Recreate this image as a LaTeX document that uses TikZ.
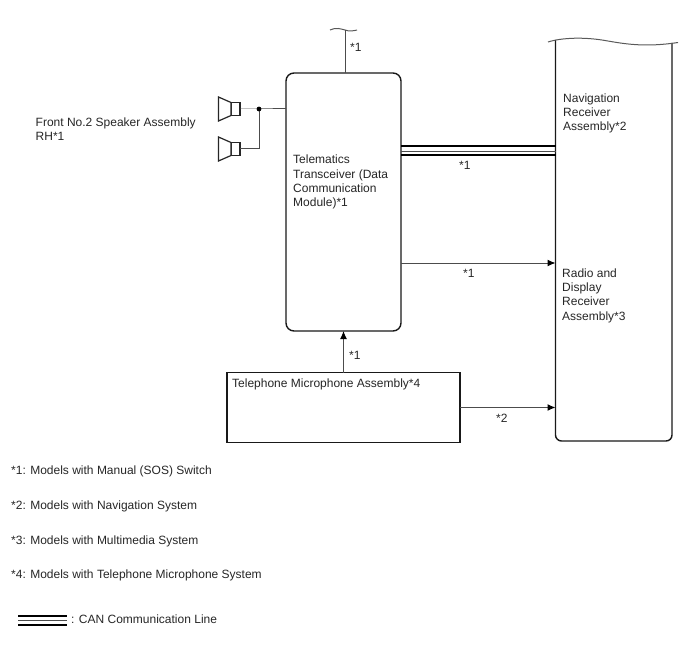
\documentclass[tikz,border=0pt]{standalone}
\usepackage{fontspec}
\setmainfont{Liberation Sans}
\usetikzlibrary{arrows.meta}
\tikzset{
  lbl/.style={anchor=base west,inner sep=0pt,font=\fontsize{12}{14.2}\selectfont,text=black!85,align=left},
  blk/.style={draw=black!90,line width=1.4pt,inner sep=0pt,outer sep=0pt,fill=white},
  wire/.style={draw=black!70,line width=1pt},
  arr/.style={wire,-{Latex[length=8pt,width=7pt,black]}},
  spk/.style={draw=black!85,line width=1.2pt,fill=white},
  canthick/.style={draw=black,line width=2pt},
  canthin/.style={draw=black!70,line width=0.8pt},
}
\begin{document}
\begin{tikzpicture}[x=1pt,y=-1pt]
\useasboundingbox (0,0) rectangle (688,658);
% receiver box
\coordinate (rtl) at (555.5,40);
\coordinate (rtr) at (672,43);
\coordinate (rbl) at (555.5,441);
\coordinate (rbr) at (672,441);
\draw[blk,fill=none,rounded corners=6pt] (rtl) -- (rbl) -- (rbr) -- (rtr);
\draw[draw=black!65,line width=1pt] (548,42) .. controls (562,37.5) and (585,37) .. (605,40.5) .. controls (625,44) and (645,47.5) .. (678,42.5);
% telematics
\node[blk,rounded corners=8pt,minimum width=115pt,minimum height=258pt] (tele) at (343.5,202) {};
% microphone
\node[blk,rounded corners=0pt,minimum width=233pt,minimum height=70pt] (mic) at (343.5,407.5) {};
% top break
\coordinate (brk) at (345,30);
\draw[draw=black!65,line width=1pt] (330,30) .. controls (336,27) and (341,29) .. (345,30) .. controls (349,31.5) and (353,31) .. (357,30);
\draw[wire] (brk) -- (brk |- tele.north);
% speakers
\node[spk,minimum width=9pt,minimum height=13pt,inner sep=0pt,outer sep=0pt] (s1) at (235.5,109) {};
\node[spk,minimum width=9pt,minimum height=13pt,inner sep=0pt,outer sep=0pt] (s2) at (235.5,149) {};
\draw[spk,line join=miter] (s1.north west) -- (218.5,97) -- (218.5,121) -- (s1.south west) -- cycle;
\draw[spk,line join=miter] (s2.north west) -- (218.5,137) -- (218.5,161) -- (s2.south west) -- cycle;
\coordinate (j) at (259,109);
\draw[wire] (s1.east) -- (j) -- (j -| tele.west);
\draw[wire] (s2.east) -- (j |- s2.east) -- (j);
\fill[black] (j) circle (2.4pt);
% CAN
\coordinate (c1) at (tele.east |- 0,146.5);
\coordinate (c2) at (tele.east |- 0,151);
\coordinate (c3) at (tele.east |- 0,155.5);
\draw[canthick] (c1) -- (c1 -| rtl);
\draw[canthin] (c2) -- (c2 -| rtl);
\draw[canthick] (c3) -- (c3 -| rtl);
% arrows
\coordinate (a1) at (tele.east |- 0,263);
\draw[arr] (a1) -- (a1 -| rtl);
\draw[arr] (mic.north) -- (mic.north |- tele.south);
\draw[arr] (mic.east) -- (mic.east -| rtl);
% labels
\node[lbl] (t1) at (35.5,141) {Front No.2 Speaker Assembly\\RH*1};
\node[lbl] (t2) at (293,206.5) {Telematics\\Transceiver (Data\\Communication\\Module)*1};
\node[lbl] (t3) at (563,131) {Navigation\\Receiver\\Assembly*2};
\node[lbl] (t4) at (562,320) {Radio and\\Display\\Receiver\\Assembly*3};
\node[lbl] (t5) at (232,387) {Telephone Microphone Assembly*4};
\node[lbl] (l1) at (350,52) {*1};
\node[lbl] (l2) at (459,169) {*1};
\node[lbl] (l3) at (463,277) {*1};
\node[lbl] (l4) at (349,359) {*1};
\node[lbl] (l5) at (496,422) {*2};
\node[lbl] (n1) at (11,474) {*1: Models with Manual (SOS) Switch};
\node[lbl] (n2) at (11,509) {*2: Models with Navigation System};
\node[lbl] (n3) at (11,544) {*3: Models with Multimedia System};
\node[lbl] (n4) at (11,578) {*4: Models with Telephone Microphone System};
\node[lbl] (n5) at (71,623) {: CAN Communication Line};
% legend line
\coordinate (k1) at (18,616);
\coordinate (k2) at (67,616);
\draw[canthick] (k1) -- (k2);
\draw[canthin] (18,620.5) -- (67,620.5);
\draw[canthick] (18,624.5) -- (67,624.5);
\end{tikzpicture}
\end{document}
